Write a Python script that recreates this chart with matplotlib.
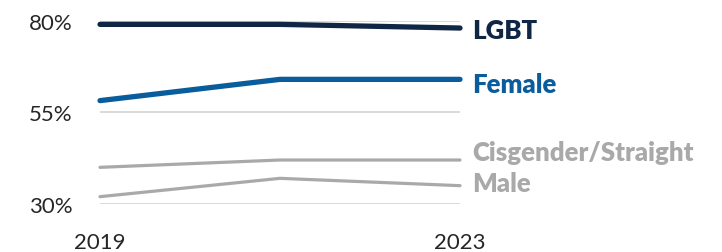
import matplotlib
matplotlib.use("Agg")
import matplotlib.pyplot as plt

plt.rcParams['font.family'] = ['Lato', 'DejaVu Sans']

years = [2019, 2021, 2023]
series = ["LGBT", "Female", "Cisgender/Straight", "Male"]
lgbt = [79, 79, 78]
female = [58.2, 64, 64]
cis = [40, 42, 42]
male = [32, 37, 35]
values = [lgbt, female, cis, male]
colors = ["#0f2745", "#0a5d9c", "#a9a9a9", "#a9a9a9"]
widths = [3.8, 3.8, 2.3, 2.3]
label_y = [77.5, 62.7, 44.2, 35.7]
yticks = [30, 55, 80]
xtick_labels = ["2019", "2023"]

fig = plt.figure(figsize=(7.22, 2.53), dpi=100)
ax = fig.add_axes([100/722, 48/253, 360/722, 183.3/253])

for t in yticks:
    ax.axhline(t, color="#d9d9d9", lw=1.4, zorder=1)

for name, vals, c, w, ly in zip(series, values, colors, widths, label_y):
    ax.plot(years, vals, color=c, lw=w, solid_capstyle='round', clip_on=False, zorder=3)
    ax.annotate(name, xy=(years[-1], ly), xytext=(8.5, 0), textcoords='offset points',
                va='center', ha='left', color=c, fontsize=18.5, fontweight='heavy',
                annotation_clip=False)

ax.set_xlim(2019, 2023)
ax.set_ylim(30, 80)
ax.set_yticks(yticks)
ax.set_yticklabels([f"{t}%" for t in yticks])
ax.set_xticks([2019, 2023])
ax.set_xticklabels(xtick_labels)
ax.tick_params(length=0, labelsize=16, labelcolor="#262626")
ax.tick_params(axis='y', pad=20)
ax.tick_params(axis='x', pad=20)
for s in ax.spines.values():
    s.set_visible(False)

fig.savefig("out.png", dpi=100)
